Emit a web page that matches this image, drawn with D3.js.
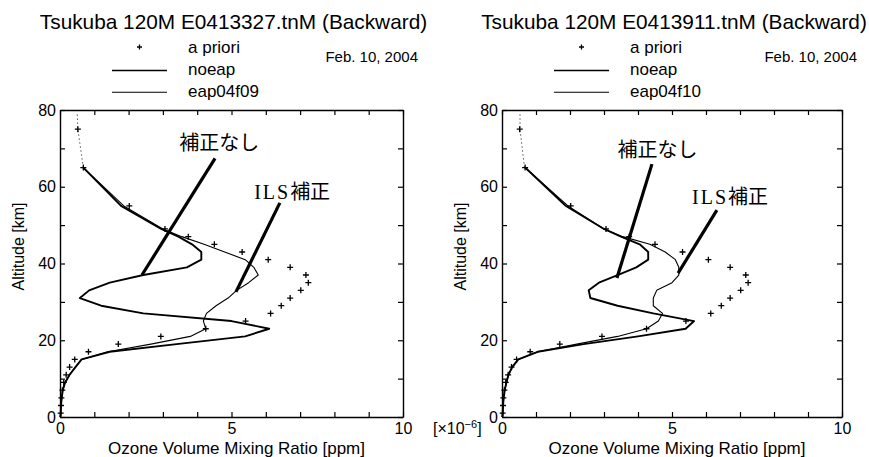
<!DOCTYPE html>
<html>
<head>
<meta charset="utf-8">
<script src="https://cdn.jsdelivr.net/npm/d3@7"></script>
<style>
  body { margin: 0; background: #fff; }
  svg { display: block; }
  text { font-family: "Liberation Sans", Arial, sans-serif; fill: #000; }
</style>
</head>
<body>
<svg id="chart" width="869" height="457"></svg>
<script>
// a priori ozone profile (shared by both retrievals), ppm vs km
const aprioriAlt = [1, 3, 5, 7, 9, 11, 13, 15, 17, 19, 21, 23, 25, 27, 29, 31, 33, 35, 37, 39, 41, 43, 45, 47, 49, 55, 65, 75];
const aprioriVmr = [0.02, 0.03, 0.04, 0.07, 0.11, 0.18, 0.28, 0.43, 0.83, 1.70, 2.94, 4.25, 5.41, 6.14, 6.45, 6.71, 7.02, 7.24, 7.17, 6.71, 6.07, 5.31, 4.50, 3.74, 3.06, 2.02, 0.68, 0.52];

// retrieved profiles, altitude grid
const retrievalAlt = [0, 1, 3, 5, 7, 9, 11, 13, 15, 17, 19, 21, 23, 25, 27, 29, 31, 33, 35, 37, 39, 41, 43, 45, 47, 49, 55, 65];
const noeapLeft  = [0.01, 0.02, 0.03, 0.05, 0.08, 0.15, 0.28, 0.45, 0.63, 1.45, 3.40, 5.40, 6.10, 5.00, 2.43, 1.20, 0.58, 0.85, 1.45, 2.43, 3.70, 4.12, 4.12, 3.85, 3.45, 2.95, 1.78, 0.68];
const eapLeft    = [0.01, 0.02, 0.03, 0.05, 0.08, 0.15, 0.28, 0.45, 0.63, 1.40, 2.65, 3.80, 4.25, 4.18, 4.27, 4.55, 4.90, 5.15, 5.50, 5.78, 5.65, 5.40, 4.80, 4.20, 3.55, 3.00, 1.86, 0.68];
const noeapRight = [0.01, 0.02, 0.03, 0.05, 0.08, 0.13, 0.19, 0.30, 0.48, 1.05, 2.40, 4.00, 5.40, 5.65, 4.45, 3.40, 2.60, 2.55, 2.85, 3.40, 3.95, 4.30, 4.30, 4.05, 3.50, 3.00, 1.88, 0.68];
const eapRight   = [0.01, 0.02, 0.03, 0.05, 0.08, 0.13, 0.19, 0.30, 0.48, 1.05, 2.20, 3.40, 4.25, 4.60, 4.72, 4.45, 4.45, 4.55, 5.00, 5.20, 5.20, 5.10, 4.80, 4.35, 3.55, 3.00, 1.94, 0.68];

// faint upper tail of the retrievals
const upperAlt   = [65, 75, 79.5];
const upperLeft  = [0.68, 0.52, 0.50];
const upperRight = [0.66, 0.53, 0.53];

const xTicks = d3.range(0, 11, 1);
const xTickLabels = [0, 5, 10];
const yTicks = d3.range(0, 81, 10);
const yTickLabels = [0, 20, 40, 60, 80];

const titles = ["Tsukuba 120M E0413327.tnM (Backward)", "Tsukuba 120M E0413911.tnM (Backward)"];
const legendNames = [["a priori", "noeap", "eap04f09"], ["a priori", "noeap", "eap04f10"]];
const dateLabel = "Feb. 10, 2004";
const xTitle = "Ozone Volume Mixing Ratio [ppm]";
const yTitle = "Altitude [km]";

// callouts: label position and pointer ends, in data units (ppm, km)
const noteLeft = [
  { text: "補正なし", ils: false, at: [3.48, 69.6], from: [4.52, 67.4], to: [2.39, 37.0] },
  { text: "補正", ils: true, at: [5.66, 56.8], from: [6.41, 55.8], to: [5.13, 32.6] }
];
const noteRight = [
  { text: "補正なし", ils: false, at: [3.40, 67.7], from: [4.41, 65.9], to: [3.38, 36.2] },
  { text: "補正", ils: true, at: [5.59, 55.5], from: [6.32, 53.9], to: [5.18, 37.5] }
];

const panels = [
  { x0: 60, x1: 403, noeap: noeapLeft, eap: eapLeft, upper: upperLeft, notes: noteLeft, title: titles[0], legend: legendNames[0] },
  { x0: 502, x1: 842, noeap: noeapRight, eap: eapRight, upper: upperRight, notes: noteRight, title: titles[1], legend: legendNames[1] }
];

const svg = d3.select("#chart");
const plotTop = 110, plotBottom = 417;
const y = d3.scaleLinear().domain([0, 80]).range([plotBottom, plotTop]);

function plus(g, cx, cy, s) {
  g.append("path")
    .attr("d", `M${cx - s},${cy}H${cx + s}M${cx},${cy - s}V${cy + s}`)
    .attr("stroke", "#000").attr("stroke-width", 1.3).attr("fill", "none");
}

panels.forEach(p => {
  const x = d3.scaleLinear().domain([0, 10]).range([p.x0, p.x1]);
  const g = svg.append("g");
  const fmt = labels => d => labels.includes(d) ? d : "";

  // axes with inward ticks on all four sides
  const axes = [
    g.append("g").attr("transform", `translate(0,${plotBottom})`)
      .call(d3.axisBottom(x).tickValues(xTicks).tickSizeInner(-5).tickSizeOuter(0).tickPadding(6).tickFormat(fmt(xTickLabels))),
    g.append("g").attr("transform", `translate(0,${plotTop})`)
      .call(d3.axisTop(x).tickValues(xTicks).tickSizeInner(-5).tickSizeOuter(0).tickFormat("")),
    g.append("g").attr("transform", `translate(${p.x0},0)`)
      .call(d3.axisLeft(y).tickValues(yTicks).tickSizeInner(-5).tickSizeOuter(0).tickPadding(4).tickFormat(fmt(yTickLabels))),
    g.append("g").attr("transform", `translate(${p.x1},0)`)
      .call(d3.axisRight(y).tickValues(yTicks).tickSizeInner(-5).tickSizeOuter(0).tickFormat(""))
  ];
  axes.forEach(a => {
    a.select(".domain").attr("stroke", "#000").attr("stroke-width", 1.4);
    a.selectAll(".tick line").attr("stroke", "#000").attr("stroke-width", 1.2);
    a.selectAll(".tick text").attr("font-size", 16).attr("font-family", "Liberation Sans, Arial, sans-serif").attr("fill", "#000");
  });

  // profiles
  const line = vals => d3.line().x((d, i) => x(vals[i])).y(d => y(d));
  g.append("path").datum(upperAlt).attr("d", line(p.upper))
    .attr("fill", "none").attr("stroke", "#555").attr("stroke-width", 1).attr("stroke-dasharray", "1.5,2.5");
  g.append("path").datum(retrievalAlt).attr("d", line(p.eap))
    .attr("fill", "none").attr("stroke", "#000").attr("stroke-width", 1.1).attr("stroke-linejoin", "round");
  g.append("path").datum(retrievalAlt).attr("d", line(p.noeap))
    .attr("fill", "none").attr("stroke", "#000").attr("stroke-width", 1.9).attr("stroke-linejoin", "round");
  aprioriAlt.forEach((a, i) => plus(g, x(aprioriVmr[i]), y(a), 3));

  // callouts
  p.notes.forEach(n => {
    g.append("line")
      .attr("x1", x(n.from[0])).attr("y1", y(n.from[1]))
      .attr("x2", x(n.to[0])).attr("y2", y(n.to[1]))
      .attr("stroke", "#000").attr("stroke-width", 3.2);
    const t = g.append("text").attr("x", x(n.at[0])).attr("y", y(n.at[1]))
      .attr("font-size", 20).style("font-family", "'Noto Sans CJK JP', sans-serif");
    if (n.ils) {
      t.append("tspan").style("font-family", "'Liberation Serif', serif").attr("letter-spacing", 2).text("ILS");
    }
    t.append("tspan").text(n.text);
  });

  // titles and legend
  const cx = (p.x0 + p.x1) / 2;
  g.append("text").attr("x", cx + 2).attr("y", 29).attr("text-anchor", "middle")
    .attr("font-size", 20.8).text(p.title);
  g.append("text").attr("x", p.x1 + 15).attr("y", 62).attr("text-anchor", "end")
    .attr("font-size", 15).text(dateLabel);
  const lx0 = p.x0 + 52, lx1 = p.x0 + 107, tx = p.x0 + 128;
  plus(g, (lx0 + lx1) / 2, 47, 2.5);
  g.append("line").attr("x1", lx0).attr("x2", lx1).attr("y1", 70.5).attr("y2", 70.5).attr("stroke", "#000").attr("stroke-width", 1.4);
  g.append("line").attr("x1", lx0).attr("x2", lx1).attr("y1", 92.3).attr("y2", 92.3).attr("stroke", "#000").attr("stroke-width", 1.1);
  [53, 75, 97].forEach((yy, i) => g.append("text").attr("x", tx).attr("y", yy).attr("font-size", 17).text(p.legend[i]));

  // axis titles
  g.append("text").attr("x", cx + 5).attr("y", 454).attr("text-anchor", "middle").attr("font-size", 17).text(xTitle);
  g.append("text").attr("transform", `translate(${p.x0 - 36},${y(40) - 17}) rotate(-90)`)
    .attr("text-anchor", "middle").attr("font-size", 16).text(yTitle);
});

// exponent marker for the right-hand axis
const ex = svg.append("text").attr("x", 433).attr("y", 434).attr("font-size", 16);
ex.append("tspan").text("[×10");
ex.append("tspan").attr("dy", -6).attr("font-size", 11).text("−6");
ex.append("tspan").attr("dy", 6).text("]");
</script>
</body>
</html>
